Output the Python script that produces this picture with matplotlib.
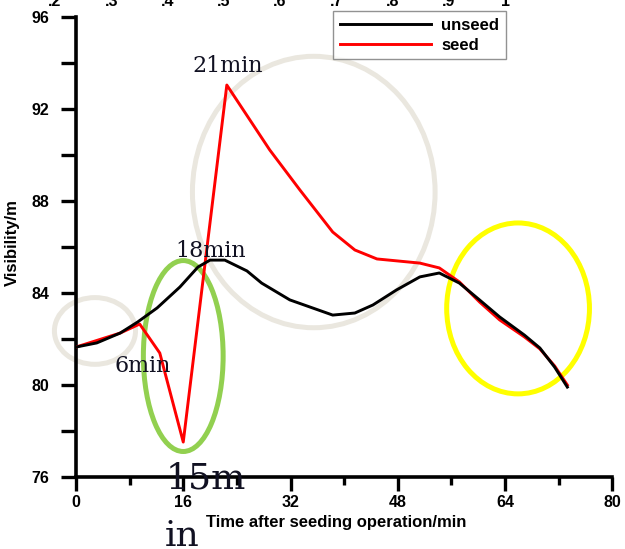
import matplotlib.pyplot as plt
from matplotlib.patches import Ellipse
from matplotlib.ticker import MultipleLocator

# visibility (m) against time after the seeding operation (min)
unseed_time = [0, 3.1, 6.6, 9.2, 12.1, 15.5, 18.2, 20.0, 22.2, 25.5, 27.7, 31.9,
               38.3, 41.6, 44.3, 47.8, 51.3, 54.2, 57.2, 60.2, 63.2, 66.9, 69.2,
               71.4, 73.3]
unseed_vis = [81.65, 81.83, 82.26, 82.74, 83.35, 84.26, 85.13, 85.43, 85.43,
              84.96, 84.43, 83.70, 83.04, 83.13, 83.48, 84.13, 84.70, 84.87,
              84.43, 83.70, 82.96, 82.17, 81.61, 80.78, 79.91]

seed_time = [0, 6.6, 9.5, 12.5, 16.0, 22.5, 28.9, 33.4, 38.3, 41.6, 44.9, 51.3,
             54.2, 57.2, 60.2, 63.2, 66.9, 69.2, 71.4, 73.3]
seed_vis = [81.65, 82.26, 82.65, 81.39, 77.52, 93.04, 90.22, 88.48, 86.65,
            85.87, 85.48, 85.30, 85.09, 84.48, 83.61, 82.83, 82.09, 81.57,
            80.83, 80.00]

series_names = ['unseed', 'seed']
x_ticks = [0, 16, 32, 48, 64, 80]
y_ticks = [76, 80, 84, 88, 92, 96]
top_labels = ['.2', '.3', '.4', '.5', '.6', '.7', '.8', '.9', '1']

plt.rcParams['font.family'] = ['Liberation Sans', 'DejaVu Sans']
plt.rcParams['font.weight'] = 'bold'


def add_circles(ax):
    """
    draws the hand-made ellipses that highlight parts of the curves
    :param ax: axes
    """
    circles = [
        ((2.83, 82.35), 12.1, 2.9, '#EAE7DF'),
        ((16.0, 81.26), 11.9, 8.3, '#92D050'),
        ((35.47, 88.39), 36.2, 11.8, '#EAE7DF'),
        ((65.95, 83.33), 21.3, 7.43, '#FFFF00'),
    ]
    for center, w, h, color in circles:
        e = Ellipse(center, w, h, fill=False, edgecolor=color, linewidth=3.6,
                    clip_on=False, zorder=1)
        ax.add_patch(e)


def add_notes(ax):
    """
    writes the minute marks next to the turning points
    :param ax: axes
    """
    serif = ['DejaVu Serif']
    notes = [
        ('21min', 17.4, 93.6, 16),
        ('18min', 14.75, 85.57, 16),
        ('6min', 5.8, 80.57, 16),
        ('15m', 13.3, 75.52, 26),
        ('in', 13.3, 73.0, 26),
    ]
    for txt, x, y, size in notes:
        ax.text(x, y, txt, family=serif, fontweight='normal', fontsize=size,
                color='#111122', ha='left', va='baseline', clip_on=False,
                zorder=6)


fig = plt.figure(figsize=(6.25, 5.49), dpi=100)
ax = fig.add_axes([0.1216, 0.1311, 0.858, 0.838])

# curves
ax.plot(seed_time, seed_vis, color='#FF0000', linewidth=2.1, zorder=3,
        label=series_names[1])
ax.plot(unseed_time, unseed_vis, color='black', linewidth=2.1, zorder=4,
        label=series_names[0])

add_circles(ax)
add_notes(ax)

ax.set_xlim(0, 80)
ax.set_ylim(76, 96)
ax.set_xticks(x_ticks)
ax.set_yticks(y_ticks)
ax.xaxis.set_minor_locator(MultipleLocator(8))
ax.yaxis.set_minor_locator(MultipleLocator(2))

for side in ['top', 'right']:
    ax.spines[side].set_visible(False)
for side in ['left', 'bottom']:
    ax.spines[side].set_linewidth(2.6)

ax.tick_params(axis='y', which='both', direction='out', length=11, width=2.4,
               labelsize=11.5, pad=8)
ax.tick_params(axis='x', which='major', direction='out', length=10, width=2.4,
               labelsize=11.5, pad=3)
ax.tick_params(axis='x', which='minor', direction='out', length=5.5, width=2.4)
for lab in ax.get_xticklabels() + ax.get_yticklabels():
    lab.set_fontweight('bold')

fig.text(12 / 625, 1 - 243 / 549, 'Visibility/m', rotation=90, ha='center',
         va='center', fontsize=12, fontweight='bold')
fig.text(336 / 625, 1 - 522 / 549, 'Time after seeding operation/min',
         ha='center', va='center', fontsize=12, fontweight='bold')

# leftover scale along the top edge
for i, lab in enumerate(top_labels):
    fig.text((55 + i * 56.25) / 625, 1 - 1 / 549, lab, ha='center',
             va='center', fontsize=11.5, fontweight='bold')

# legend, unseed listed first
handles, labels = ax.get_legend_handles_labels()
leg = fig.legend(handles[::-1], labels[::-1], loc='upper left',
                 bbox_to_anchor=(333 / 625, 1 - 11 / 549), borderaxespad=0,
                 fancybox=False, frameon=True, handlelength=5.5,
                 handletextpad=0.6, borderpad=0.4, labelspacing=0.3,
                 prop={'size': 12, 'weight': 'bold'})
leg.get_frame().set_edgecolor('#777777')
leg.get_frame().set_linewidth(1.0)

fig.savefig('out.png', dpi=100)
